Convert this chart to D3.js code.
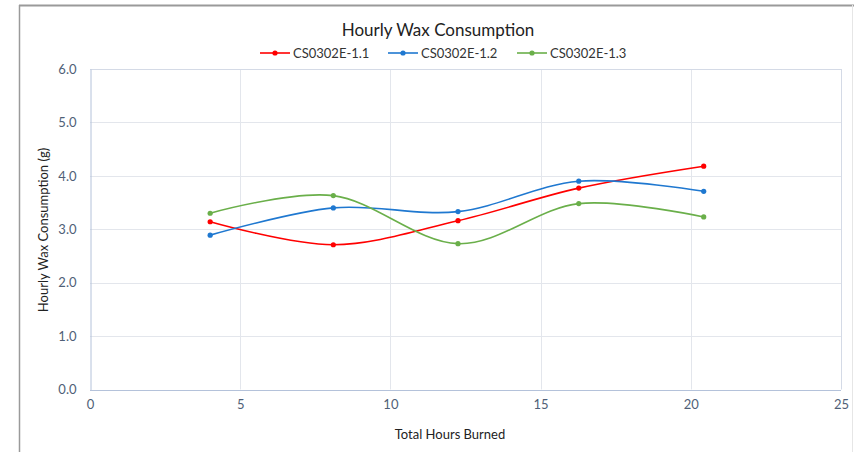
<!DOCTYPE html>
<html><head><meta charset="utf-8">
<script src="https://cdn.jsdelivr.net/npm/d3@7"></script>
<style>body{margin:0;background:#fff}svg{display:block}</style>
</head><body>
<script>
const hours = [4.0, 8.1, 12.25, 16.27, 20.43];
const series1 = [3.14, 2.71, 3.16, 3.77, 4.18];
const series2 = [2.89, 3.40, 3.33, 3.90, 3.71];
const series3 = [3.30, 3.63, 2.73, 3.48, 3.23];
const seriesNames = ["CS0302E-1.1", "CS0302E-1.2", "CS0302E-1.3"];
const seriesColors = ["#ff0000", "#1f78d0", "#6aaf4a"];
const xTicks = [0, 5, 10, 15, 20, 25];
const yTicks = [0, 1, 2, 3, 4, 5, 6];

const W = 854, H = 452;
const font = "Lato, 'Open Sans', sans-serif";
const svg = d3.select("body").append("svg").attr("width", W).attr("height", H);

// chart frame
svg.append("line").attr("x1", 19).attr("x2", W).attr("y1", 5.5).attr("y2", 5.5).attr("stroke", "#9a9a9a").attr("stroke-width", 2);
svg.append("line").attr("x1", 19.5).attr("x2", 19.5).attr("y1", 5).attr("y2", H).attr("stroke", "#9a9a9a").attr("stroke-width", 1.5);
svg.append("line").attr("x1", 852.5).attr("x2", 852.5).attr("y1", 5).attr("y2", H).attr("stroke", "#e6e6e6").attr("stroke-width", 1);

const x = d3.scaleLinear().domain([0, 25]).range([90, 841]);
const y = d3.scaleLinear().domain([0, 6]).range([389.5, 69]);

// gridlines
const g = svg.append("g");
g.selectAll(".vg").data(xTicks.slice(1)).join("line")
  .attr("x1", d => Math.round(x(d)) + 0.5).attr("x2", d => Math.round(x(d)) + 0.5)
  .attr("y1", y(6)).attr("y2", y(0)).attr("stroke", d => d === 25 ? "#d4dae6" : "#e3e6ec");
g.selectAll(".hg").data(yTicks.slice(1)).join("line")
  .attr("x1", x(0)).attr("x2", x(25))
  .attr("y1", d => Math.round(y(d)) + 0.5).attr("y2", d => Math.round(y(d)) + 0.5).attr("stroke", d => d === 6 ? "#d4dae6" : "#e3e6ec");

// axes
const xAxis = svg.append("g").attr("transform", `translate(0,${Math.round(y(0)) + 0.5})`)
  .call(d3.axisBottom(x).tickValues(xTicks).tickSize(0).tickPadding(9));
const yAxis = svg.append("g").attr("transform", `translate(${Math.round(x(0)) + 0.5},0)`)
  .call(d3.axisLeft(y).tickValues(yTicks).tickFormat(d3.format(".1f")).tickSize(0).tickPadding(14));
[xAxis, yAxis].forEach(a => {
  a.select(".domain").attr("stroke", "#b4c2da");
  a.selectAll("text").attr("fill", "#4f5f77").attr("font-family", font).attr("font-size", 13);
});
xAxis.select(".domain").attr("d", `M${x(0)},0H${x(25)}`);

// axis titles
svg.append("text").attr("x", 450).attr("y", 439).attr("text-anchor", "middle")
  .attr("font-family", font).attr("font-size", 13).attr("fill", "#222").text("Total Hours Burned");
svg.append("text").attr("transform", "translate(48,230) rotate(-90)").attr("text-anchor", "middle")
  .attr("font-family", font).attr("font-size", 13).attr("fill", "#222").text("Hourly Wax Consumption (g)");

// title
svg.append("text").attr("x", 438).attr("y", 36).attr("text-anchor", "middle")
  .attr("font-family", font).attr("font-size", 17).attr("fill", "#222").text("Hourly Wax Consumption");

// series
const allSeries = [series1, series2, series3];
const line = d3.line().x((d, i) => x(hours[i])).y(d => y(d)).curve(d3.curveCardinal.tension(0));
allSeries.forEach((s, k) => {
  svg.append("path").datum(s).attr("d", line).attr("fill", "none")
    .attr("stroke", seriesColors[k]).attr("stroke-width", 1.6);
  svg.selectAll(".p" + k).data(s).join("circle")
    .attr("cx", (d, i) => x(hours[i])).attr("cy", d => y(d)).attr("r", 2.6).attr("fill", seriesColors[k]);
});

// legend
const legX = [260, 388, 517];
seriesNames.forEach((n, k) => {
  const lg = svg.append("g").attr("transform", `translate(${legX[k]},53)`);
  lg.append("line").attr("x1", 0).attr("x2", 30).attr("stroke", seriesColors[k]).attr("stroke-width", 1.6);
  lg.append("circle").attr("cx", 15).attr("r", 2.6).attr("fill", seriesColors[k]);
  lg.append("text").attr("x", 33).attr("y", 4.5).attr("font-family", font).attr("font-size", 13)
    .attr("fill", "#333").text(n);
});
</script>
</body></html>
